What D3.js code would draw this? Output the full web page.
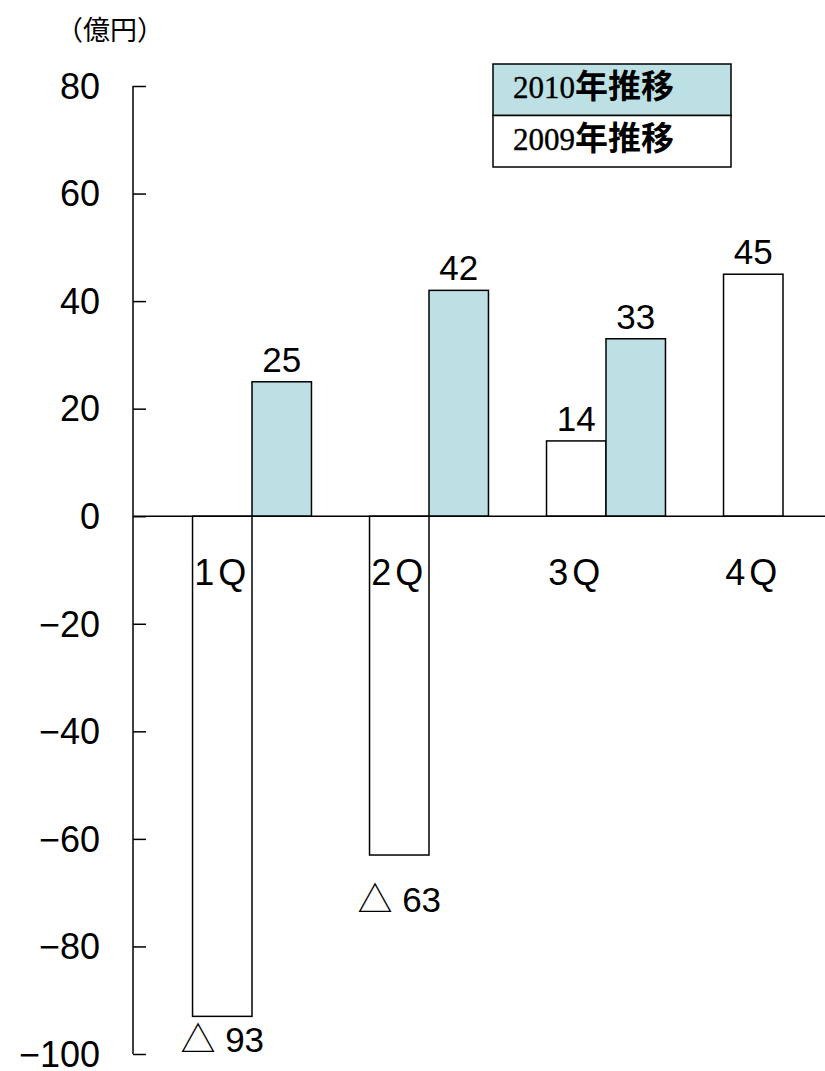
<!DOCTYPE html>
<meta charset="utf-8" />
<head>
  <style>
    body { margin: 0; background: #fff; }
    svg { display: block; }
    .num { font-family: "Liberation Sans", "Noto Sans CJK JP", sans-serif; fill: #000; }
    .jp { font-family: "Noto Sans CJK JP", sans-serif; fill: #000; }
  </style>
  <script src="https://cdn.jsdelivr.net/npm/d3@7"></script>
</head>
<body>
<script>
  // data
  var quarters = ["1Q", "2Q", "3Q", "4Q"],
    series = ["2009", "2010"],
    v2009 = [-93, -63, 14, 45],
    v2010 = [25, 42, 33, null],
    yTicks = [80, 60, 40, 20, 0, -20, -40, -60, -80, -100],
    legendLabels = ["2010年推移", "2009年推移"],
    fill2010 = "#bce0e3";

  var width = 825, height = 1071;

  var svg = d3.select("body").append("svg")
    .attr("width", width)
    .attr("height", height);

  var y = d3.scaleLinear().domain([-100, 80]).range([1054, 86]);
  var x = d3.scaleBand().domain(quarters).range([163.5, 871.5])
    .paddingInner(0.328).paddingOuter(0.164);
  var xs = d3.scaleBand().domain(series).range([0, x.bandwidth()]);

  var axisX = 133;

  // unit label
  svg.append("text").attr("class", "jp")
    .attr("x", 56).attr("y", 40)
    .attr("font-size", 27)
    .text("（億円）");

  // y axis, ticks pointing inward
  var yAxis = d3.axisRight(y).tickValues(yTicks).tickSize(13)
    .tickFormat(function(d) { return d < 0 ? "\u2212" + Math.abs(d) : d; });
  var gy = svg.append("g").attr("transform", "translate(" + axisX + ",0)").call(yAxis);
  gy.select(".domain").attr("d", "M0," + y(80) + "V" + y(-100)).attr("stroke", "#000").attr("stroke-width", 1.5);
  gy.selectAll(".tick line").attr("stroke", "#000").attr("stroke-width", 1.5);
  gy.selectAll(".tick text")
    .attr("class", "num")
    .attr("x", 100 - axisX)
    .attr("dy", "0.34em")
    .attr("text-anchor", "end")
    .attr("font-size", 36)
    .attr("fill", "#000");

  var rows = [];
  quarters.forEach(function(q, i) {
    rows.push({ q: q, s: "2009", v: v2009[i] });
    if (v2010[i] != null) rows.push({ q: q, s: "2010", v: v2010[i] });
  });

  // bars
  svg.append("g").selectAll("rect")
    .data(rows).enter().append("rect")
    .attr("x", function(d) { return x(d.q) + xs(d.s); })
    .attr("width", xs.bandwidth())
    .attr("y", function(d) { return y(Math.max(0, d.v)); })
    .attr("height", function(d) { return Math.abs(y(d.v) - y(0)); })
    .attr("fill", function(d) { return d.s === "2010" ? fill2010 : "#fff"; })
    .attr("stroke", "#000")
    .attr("stroke-width", 1.5);

  // zero line
  svg.append("line")
    .attr("x1", axisX).attr("x2", width)
    .attr("y1", y(0)).attr("y2", y(0))
    .attr("stroke", "#000").attr("stroke-width", 1.5);

  // category labels, under the 2009 bar
  svg.append("g").selectAll("text")
    .data(quarters).enter().append("text")
    .attr("class", "num")
    .attr("x", function(q) { return x(q) + xs("2009") + xs.bandwidth() / 2; })
    .attr("y", y(0) + 69)
    .attr("text-anchor", "middle")
    .attr("font-size", 36)
    .attr("letter-spacing", 4)
    .text(function(q) { return q; });

  // value labels
  svg.append("g").selectAll("text")
    .data(rows).enter().append("text")
    .attr("class", "num")
    .attr("x", function(d) { return x(d.q) + xs(d.s) + xs.bandwidth() / 2; })
    .attr("y", function(d) {
      return d.v >= 0 ? y(d.v) - 10 : Math.min(y(d.v) + 57, 1052);
    })
    .attr("text-anchor", "middle")
    .attr("font-size", 35)
    .text(function(d) { return d.v >= 0 ? d.v : "△ " + Math.abs(d.v); });

  // legend
  var lg = svg.append("g").attr("transform", "translate(493,64)");
  legendLabels.forEach(function(t, i) {
    lg.append("rect")
      .attr("x", 0).attr("y", i * 51.5)
      .attr("width", 238).attr("height", 51.5)
      .attr("fill", i === 0 ? fill2010 : "#fff")
      .attr("stroke", "#000").attr("stroke-width", 1.5);
    var tx = lg.append("text").attr("x", 20).attr("y", i * 51.5 + 34);
    tx.append("tspan").attr("font-family", "Liberation Serif, serif").attr("font-size", 31)
      .attr("stroke", "#000").attr("stroke-width", 0.4)
      .text(t.slice(0, 4));
    tx.append("tspan").attr("font-family", "Noto Sans CJK JP, sans-serif").attr("font-weight", "bold")
      .attr("font-size", 33).text(t.slice(4));
  });
</script>
</body>
